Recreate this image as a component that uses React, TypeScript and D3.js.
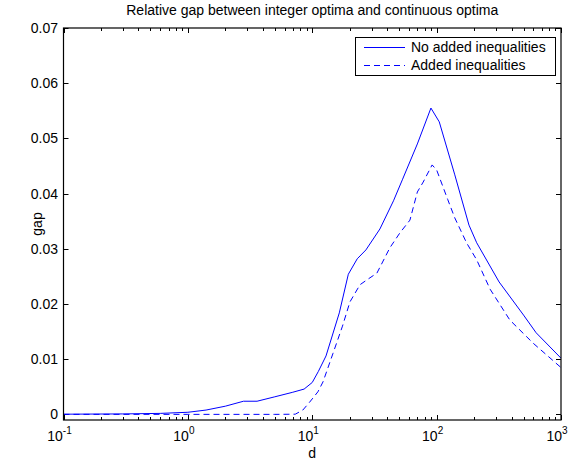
import React, { useEffect, useRef } from 'react';
import * as d3 from 'd3';

// d values and gaps
const solidD = [0.1, 0.3, 0.6, 1, 1.4, 2, 2.8, 3.6, 5, 6.9, 8.6, 10, 11.2, 12.9, 16.5, 19.5, 23, 27, 35, 45, 53, 70, 90, 105, 140, 182, 210, 318, 500, 631, 1000];
const solidGap = [0.00005, 0.0001, 0.0002, 0.0004, 0.0008, 0.0015, 0.0024, 0.0024, 0.0032, 0.004, 0.0046, 0.0058, 0.0078, 0.0106, 0.0184, 0.0254, 0.0282, 0.0298, 0.0336, 0.0387, 0.0425, 0.049, 0.0555, 0.053, 0.0434, 0.0343, 0.0311, 0.024, 0.018, 0.0148, 0.0102];

const dashedD = [0.1, 1, 5, 7.3, 8.4, 9.5, 11.1, 12.2, 14.7, 17.5, 20.1, 24.2, 28, 33.1, 42.1, 50.7, 61, 70, 78, 92, 100, 123, 140, 174, 210, 269, 388, 598, 1000];
const dashedGap = [0.00002, 0.00002, 0.00002, 0.00005, 0.0008, 0.0022, 0.0041, 0.0059, 0.0111, 0.016, 0.0204, 0.0235, 0.0245, 0.0256, 0.0302, 0.0329, 0.0352, 0.0403, 0.0421, 0.0452, 0.0443, 0.0389, 0.0356, 0.0311, 0.028, 0.0227, 0.0171, 0.0129, 0.0085];

const seriesNames = ['No added inequalities', 'Added inequalities'];
const xTickExps = [-1, 0, 1, 2, 3];
const yTicks = [0, 0.01, 0.02, 0.03, 0.04, 0.05, 0.06, 0.07];

const App = () => {
    const svgRef = useRef<SVGSVGElement>(null);

    useEffect(() => {
        if (!svgRef.current) return;
        const root = d3.select(svgRef.current);
        root.selectAll('*').remove();

        const width = 569;
        const height = 462;
        const left = 63.5, right = 561, top = 28, bottom = 420;
        const font = 'Liberation Sans, Arial, Helvetica, sans-serif';
        const fs = '14px';

        root.attr('width', width).attr('height', height);
        root.append('rect').attr('width', width).attr('height', height).attr('fill', 'white');

        const x = d3.scaleLog().domain([0.1, 1000]).range([left, right]);
        const y = d3.scaleLinear().domain([-0.001, 0.07]).range([bottom, top]);

        const g = root.append('g');

        // x ticks (major + minor), inward on bottom and top
        const minor: number[] = [];
        for (let e = -1; e < 3; e++) {
            for (let k = 2; k <= 9; k++) minor.push(k * Math.pow(10, e));
        }
        const tickG = g.append('g').attr('stroke', 'black').attr('stroke-width', 1);
        xTickExps.forEach(e => {
            const px = Math.round(x(Math.pow(10, e))) + 0.5;
            tickG.append('line').attr('x1', px).attr('x2', px).attr('y1', bottom).attr('y2', bottom - 5);
            tickG.append('line').attr('x1', px).attr('x2', px).attr('y1', top).attr('y2', top + 5);
        });
        minor.forEach(v => {
            const px = Math.round(x(v)) + 0.5;
            tickG.append('line').attr('x1', px).attr('x2', px).attr('y1', bottom).attr('y2', bottom - 3);
            tickG.append('line').attr('x1', px).attr('x2', px).attr('y1', top).attr('y2', top + 3);
        });
        yTicks.forEach(v => {
            const py = Math.round(y(v)) + 0.5;
            tickG.append('line').attr('x1', left).attr('x2', left + 5).attr('y1', py).attr('y2', py);
            tickG.append('line').attr('x1', right).attr('x2', right - 5).attr('y1', py).attr('y2', py);
        });

        // x tick labels 10^e
        xTickExps.forEach(e => {
            const t = g.append('text')
                .attr('x', x(Math.pow(10, e)) - 4)
                .attr('y', 441)
                .attr('text-anchor', 'middle')
                .style('font-family', font)
                .style('font-size', fs);
            t.append('tspan').text('10');
            t.append('tspan').attr('dy', -7).style('font-size', '10px').text(String(e));
        });

        // y tick labels
        yTicks.forEach(v => {
            g.append('text')
                .attr('x', 58)
                .attr('y', y(v) + 5)
                .attr('text-anchor', 'end')
                .style('font-family', font)
                .style('font-size', fs)
                .text(v === 0 ? '0' : v.toFixed(2));
        });

        // lines
        const line = d3.line<[number, number]>()
            .x(d => x(d[0]))
            .y(d => y(d[1]));

        const solid: [number, number][] = solidD.map((d, i) => [d, solidGap[i]]);
        const dashed: [number, number][] = dashedD.map((d, i) => [d, dashedGap[i]]);

        const clip = root.append('defs').append('clipPath').attr('id', 'plotclip');
        clip.append('rect').attr('x', left).attr('y', top).attr('width', right - left).attr('height', bottom - top);

        const lines = g.append('g').attr('clip-path', 'url(#plotclip)');
        lines.append('path')
            .datum(solid)
            .attr('fill', 'none')
            .attr('stroke', '#0000ff')
            .attr('stroke-width', 1)
            .attr('d', line);
        lines.append('path')
            .datum(dashed)
            .attr('fill', 'none')
            .attr('stroke', '#0000ff')
            .attr('stroke-width', 1)
            .attr('stroke-dasharray', '6,4')
            .attr('d', line);

        // frame
        g.append('rect')
            .attr('x', left).attr('y', top)
            .attr('width', right - left).attr('height', bottom - top)
            .attr('fill', 'none')
            .attr('stroke', 'black')
            .attr('stroke-width', 1.2);

        // title and axis labels
        g.append('text')
            .attr('x', (left + right) / 2)
            .attr('y', 15)
            .attr('text-anchor', 'middle')
            .style('font-family', font)
            .style('font-size', fs)
            .text('Relative gap between integer optima and continuous optima');

        g.append('text')
            .attr('x', (left + right) / 2)
            .attr('y', 458)
            .attr('text-anchor', 'middle')
            .style('font-family', font)
            .style('font-size', fs)
            .text('d');

        g.append('text')
            .attr('transform', `translate(42, ${(top + bottom) / 2}) rotate(-90)`)
            .attr('text-anchor', 'middle')
            .style('font-family', font)
            .style('font-size', fs)
            .text('gap');

        // legend
        const legend = g.append('g').attr('transform', 'translate(355, 37)');
        legend.append('rect')
            .attr('x', 0.5).attr('y', 0.5)
            .attr('width', 200).attr('height', 38)
            .attr('fill', 'white')
            .attr('stroke', 'black')
            .attr('stroke-width', 1);
        seriesNames.forEach((name, i) => {
            const ly = 10 + i * 18;
            legend.append('line')
                .attr('x1', 9).attr('x2', 50)
                .attr('y1', ly + 0.5).attr('y2', ly + 0.5)
                .attr('stroke', '#0000ff')
                .attr('stroke-width', 1)
                .attr('stroke-dasharray', i === 1 ? '6,4' : null);
            legend.append('text')
                .attr('x', 56)
                .attr('y', ly + 5)
                .style('font-family', font)
                .style('font-size', fs)
                .text(name);
        });
    }, []);

    return (
        <svg ref={svgRef} width={569} height={462} style={{ position: 'absolute', left: 0, top: 0 }}></svg>
    );
};

export default App;
